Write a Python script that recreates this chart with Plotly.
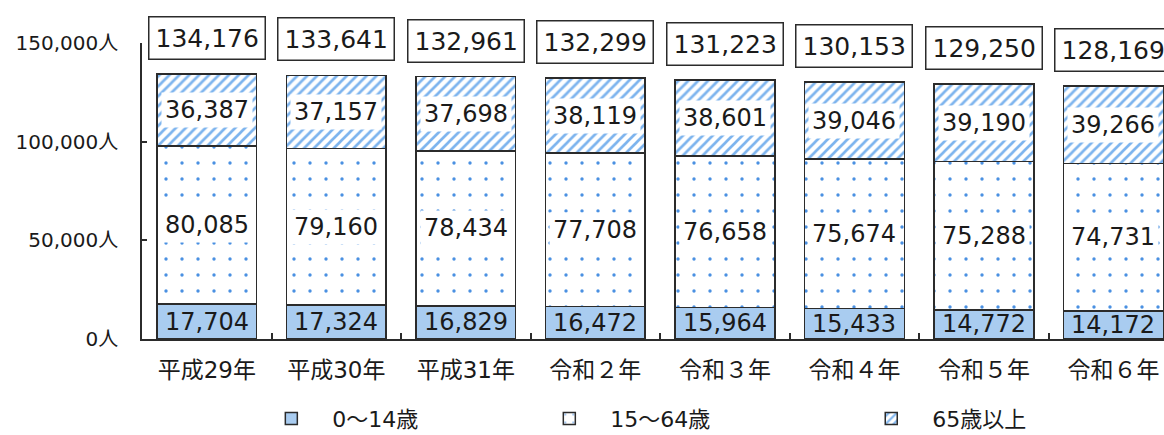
import plotly.graph_objects as go

# Population by age group (persons)
years = ["平成29年", "平成30年", "平成31年", "令和２年", "令和３年", "令和４年", "令和５年", "令和６年"]
age_0_14 = [17704, 17324, 16829, 16472, 15964, 15433, 14772, 14172]
age_15_64 = [80085, 79160, 78434, 77708, 76658, 75674, 75288, 74731]
age_65_up = [36387, 37157, 37698, 38119, 38601, 39046, 39190, 39266]
totals = [134176, 133641, 132961, 132299, 131223, 130153, 129250, 128169]

y_ticks = [0, 50000, 100000, 150000]
y_tick_text = ["0人", "50,000人", "100,000人", "150,000人"]

FONT = "DejaVu Sans, Noto Sans CJK JP, sans-serif"
EDGE = "#2b2b2b"
TEXT = "#1a1a1a"

fig = go.Figure()

fig.add_trace(go.Bar(
    x=years, y=age_0_14, name="0～14歳", legend="legend",
    marker=dict(color="#A9CCF0", line=dict(color=EDGE, width=1.5)),
    width=0.77,
))
fig.add_trace(go.Bar(
    x=years, y=age_15_64, name="15～64歳", legend="legend2",
    marker=dict(color="white", line=dict(color=EDGE, width=1.5),
                pattern=dict(shape=".", fgcolor="#4A90E2", bgcolor="white",
                             size=16, solidity=0.035, fillmode="replace")),
    width=0.77,
))
fig.add_trace(go.Bar(
    x=years, y=age_65_up, name="65歳以上", legend="legend3",
    marker=dict(color="white", line=dict(color=EDGE, width=1.5),
                pattern=dict(shape="/", fgcolor="#7DB4EE", bgcolor="white",
                             size=7, solidity=0.38, fillmode="replace")),
    width=0.77,
))

annotations = []
for i, yr in enumerate(years):
    a, b, c = age_0_14[i], age_15_64[i], age_65_up[i]
    # segment values in the middle of each stacked segment
    annotations.append(dict(x=yr, y=a / 2, text=f"{a:,}", showarrow=False,
                            font=dict(family=FONT, size=24, color=TEXT)))
    annotations.append(dict(x=yr, y=a + b / 2, text=f"{b:,}", showarrow=False,
                            bgcolor="white", borderpad=3,
                            font=dict(family=FONT, size=24, color=TEXT)))
    annotations.append(dict(x=yr, y=a + b + c / 2, text=f"{c:,}", showarrow=False,
                            bgcolor="white", borderpad=3,
                            font=dict(family=FONT, size=24, color=TEXT)))
    # total in a framed box above each bar
    annotations.append(dict(x=yr, y=totals[i], yshift=36, text=f"{totals[i]:,}",
                            showarrow=False, bgcolor="white", bordercolor=EDGE,
                            borderwidth=1.5, borderpad=6,
                            font=dict(family=FONT, size=25, color=TEXT)))

legend_common = dict(orientation="h", yanchor="bottom", xanchor="left",
                     y=-0.34, bgcolor="rgba(0,0,0,0)", itemwidth=72,
                     font=dict(family=FONT, size=22, color=TEXT))

fig.update_layout(
    width=1164, height=435,
    margin=dict(l=142, r=0, t=43, b=96, autoexpand=False),
    barmode="stack",
    plot_bgcolor="white", paper_bgcolor="white",
    showlegend=True,
    legend=dict(x=0.106, **legend_common),
    legend2=dict(x=0.378, **legend_common),
    legend3=dict(x=0.693, **legend_common),
    annotations=annotations,
    xaxis=dict(
        type="category", range=[-0.5, 7.39],
        showline=True, linecolor=EDGE, linewidth=1.5,
        ticks="inside", tickson="boundaries", ticklen=6, tickcolor=EDGE, tickwidth=1.5,
        tickfont=dict(family=FONT, size=23, color=TEXT),
        ticklabelstandoff=10,
        showgrid=False, zeroline=False,
    ),
    yaxis=dict(
        range=[0, 150000],
        tickvals=y_ticks, ticktext=y_tick_text,
        showline=True, linecolor=EDGE, linewidth=1.5,
        ticks="inside", ticklen=5, tickcolor=EDGE, tickwidth=1.5,
        tickfont=dict(family=FONT, size=20, color=TEXT),
        ticklabelstandoff=18,
        showgrid=False, zeroline=False,
    ),
)

fig.write_html("out.html")
